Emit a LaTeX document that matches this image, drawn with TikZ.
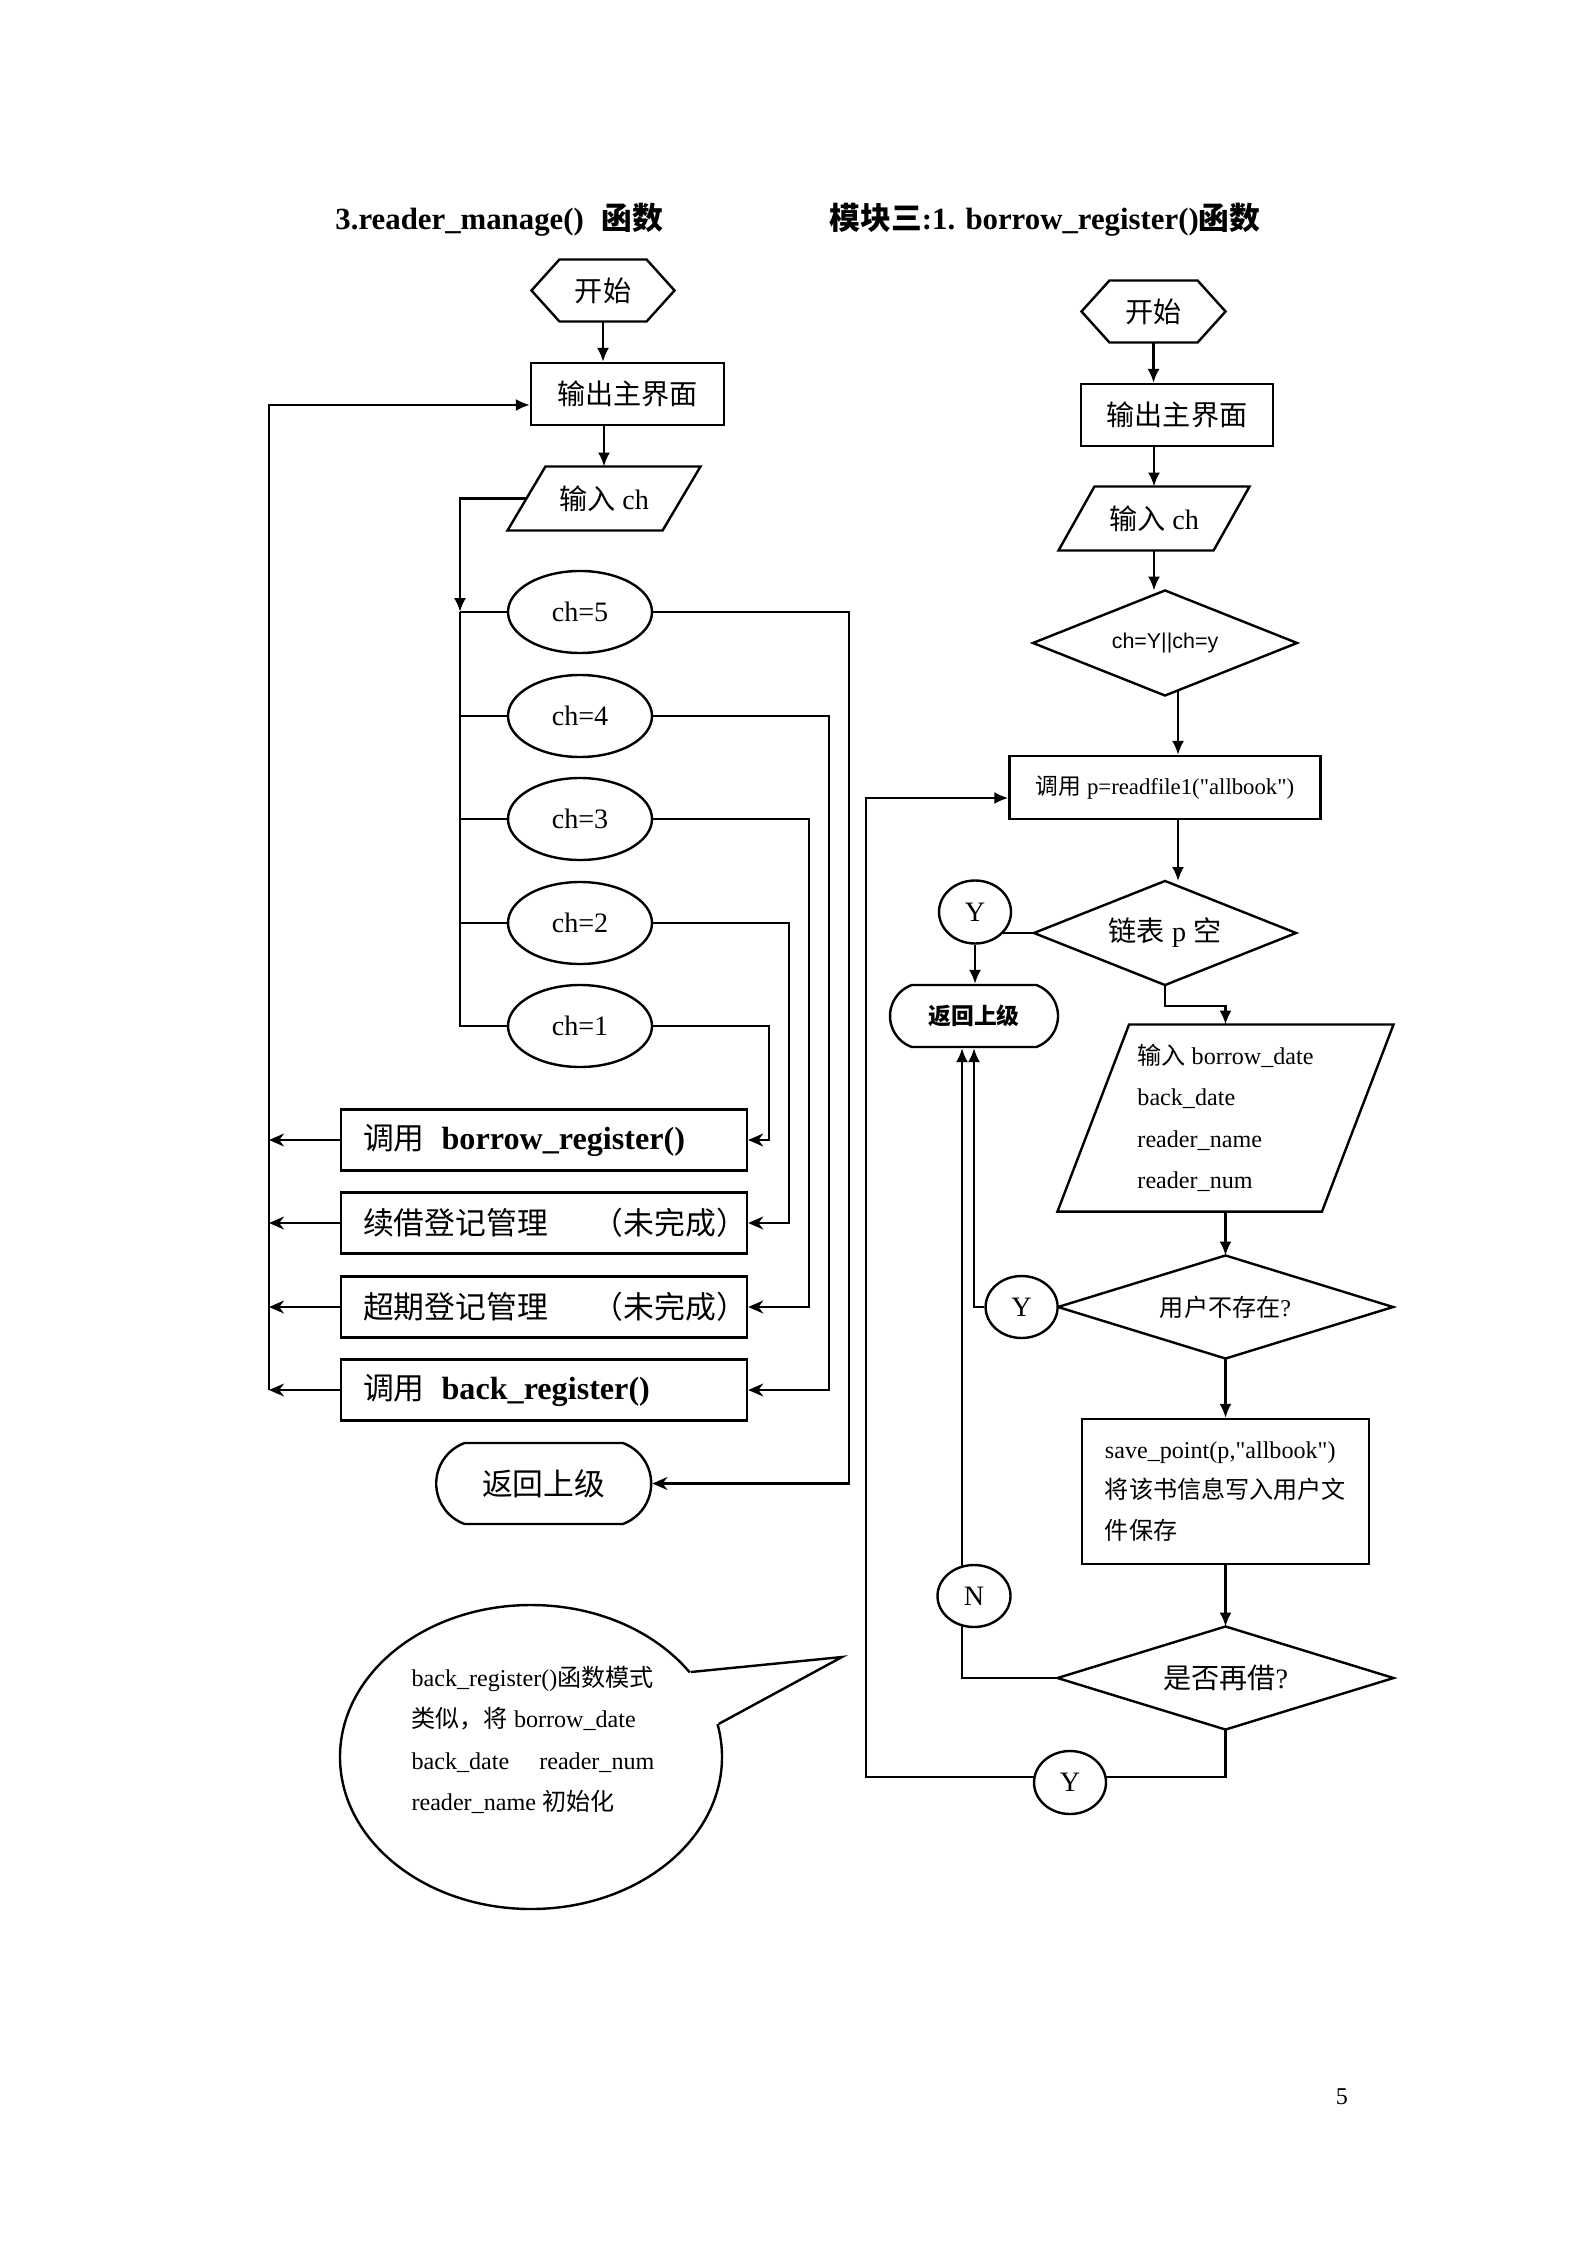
\documentclass[tikz,border=0pt]{standalone}
\usepackage{fontspec}
\setmainfont{Liberation Serif}[Ligatures=TeXOff]
\newfontfamily\cjk{Noto Sans CJK SC}
\newfontfamily\arialf{Liberation Sans}
\usetikzlibrary{arrows.meta,shapes.geometric,shapes.misc,backgrounds}
\newlength\unitpx
\setlength\unitpx{0.3733pt}
\newcommand\zh[1]{{\cjk #1}}
\newcommand\fsT{\fontsize{11.5}{13}\selectfont}
\newcommand\fsB{\fontsize{10.5}{12}\selectfont}
\newcommand\fsC{\fontsize{11.5}{13}\selectfont}
\newcommand\fsD{\fontsize{9}{15.4}\selectfont}
\newcommand\fsE{\fontsize{8.5}{10}\selectfont}
\newcommand\fsS{\fontsize{8}{10}\selectfont}
\newcommand\hexout[2]{\draw[line] ([xshift=#2]#1.north west) -- ([xshift=-#2]#1.north east) -- (#1.east) -- ([xshift=-#2]#1.south east) -- ([xshift=#2]#1.south west) -- (#1.west) -- cycle;}
\newcommand\paraout[2]{\draw[line] ([xshift=#2]#1.north west) -- (#1.north east) -- ([xshift=-#2]#1.south east) -- (#1.south west) -- cycle;}
\newcommand\diaout[1]{\draw[line] (#1.north) -- (#1.east) -- (#1.south) -- (#1.west) -- cycle;}
\begin{document}
\begin{tikzpicture}[x=0.3733pt,y=-0.3733pt,
  line/.style={line width=0.9pt,draw=black},
  arr/.style={line,-{Latex[length=5.2pt,width=4.5pt]}},
  sarr/.style={line,-{Stealth[length=5.6pt,width=4.8pt,inset=1.8pt]}},
  box/.style={draw,line width=0.9pt,rectangle,inner sep=0pt,fill=white},
  ell/.style={draw,line width=0.9pt,ellipse,inner sep=0pt,fill=white},
  plain/.style={inner sep=0pt},
  stad/.style={draw,line width=0.9pt,rounded rectangle,rounded rectangle arc length=140,inner sep=0pt,fill=white}]
\useasboundingbox (0,0) rectangle (1594,2252);

% titles
\node[anchor=west,font=\fsT] (t1) at (326,220) {\textbf{3.reader\_manage()}\hspace{18\unitpx}\zh{\bfseries 函数}};
\node[anchor=west,font=\fsT] (t2) at (820,220) {\zh{\bfseries 模块三}\textbf{:1. borrow\_register()}\zh{\bfseries 函数}};

% ---------------- left flowchart
\node[plain,minimum width=142\unitpx,minimum height=61\unitpx,font=\fsB] (s1) at (603,290.5) {\zh{开始}};
\hexout{s1}{28\unitpx}
\node[box,minimum width=193\unitpx,minimum height=62\unitpx,font=\fsB] (box1) at (627.5,394) {\zh{输出主界面}};
\node[plain,minimum width=192\unitpx,minimum height=63\unitpx,font=\fsB] (para1) at (604,498.5) {\zh{输入} ch};
\paraout{para1}{38\unitpx}
\node[ell,minimum width=144\unitpx,minimum height=82\unitpx,font=\fsB] (e5) at (580,612) {ch=5};
\node[ell,minimum width=144\unitpx,minimum height=82\unitpx,font=\fsB] (e4) at (580,716) {ch=4};
\node[ell,minimum width=144\unitpx,minimum height=82\unitpx,font=\fsB] (e3) at (580,819) {ch=3};
\node[ell,minimum width=144\unitpx,minimum height=82\unitpx,font=\fsB] (e2) at (580,923) {ch=2};
\node[ell,minimum width=144\unitpx,minimum height=82\unitpx,font=\fsB] (e1) at (580,1026) {ch=1};

\node[box,minimum width=406\unitpx,minimum height=61\unitpx,text width=406\unitpx,align=left,font=\fsC] (bb1) at (544,1140) {\hspace*{22\unitpx}\zh{调用}\hspace{17\unitpx}{\fontsize{12}{13}\selectfont\textbf{borrow\_register()}}};
\node[box,minimum width=406\unitpx,minimum height=61\unitpx,text width=406\unitpx,align=left,font=\fsC] (bb2) at (544,1223) {\hspace*{22\unitpx}\zh{续借登记管理}\hfill\zh{（未完成）}\hspace*{3\unitpx}};
\node[box,minimum width=406\unitpx,minimum height=61\unitpx,text width=406\unitpx,align=left,font=\fsC] (bb3) at (544,1307) {\hspace*{22\unitpx}\zh{超期登记管理}\hfill\zh{（未完成）}\hspace*{3\unitpx}};
\node[box,minimum width=406\unitpx,minimum height=61\unitpx,text width=406\unitpx,align=left,font=\fsC] (bb4) at (544,1390) {\hspace*{22\unitpx}\zh{调用}\hspace{17\unitpx}{\fontsize{12}{13}\selectfont\textbf{back\_register()}}};
\node[stad,minimum width=215\unitpx,minimum height=81\unitpx,font=\fsC] (ret1) at (543.7,1483.5) {\zh{返回上级}};

% callout
\node[draw,line width=0.9pt,ellipse,minimum width=382\unitpx,minimum height=304\unitpx,inner sep=0pt] (bub) at (531,1757) {};
\coordinate (tip) at (842,1657);
\fill[white] (bub.28) -- (tip) -- (bub.10) -- (bub.center) -- cycle;
\draw[line,line join=miter] (bub.28) -- (tip) -- (bub.10);
\node[anchor=west,align=left,inner sep=0pt,font=\fsD] (btext) at (411,1740) {back\_register()\zh{函数模式}\\\zh{类似，将} borrow\_date\\back\_date\hspace{30\unitpx}reader\_num\\reader\_name \zh{初始化}};

% ---------------- right flowchart
\node[plain,minimum width=143\unitpx,minimum height=61\unitpx,font=\fsB] (r1) at (1153.5,311.5) {\zh{开始}};
\hexout{r1}{28\unitpx}
\node[box,minimum width=192\unitpx,minimum height=62\unitpx,font=\fsB] (r2) at (1177,415) {\zh{输出主界面}};
\node[plain,minimum width=190\unitpx,minimum height=63\unitpx,font=\fsB] (r3) at (1154,518.5) {\zh{输入} ch};
\paraout{r3}{36\unitpx}
\node[plain,minimum width=263\unitpx,minimum height=104\unitpx,font=\fsS] (r4) at (1165,643) {\arialf ch=Y||ch=y};
\diaout{r4}
\node[box,minimum width=311\unitpx,minimum height=63\unitpx,font=\fsE] (r5) at (1165,787.5) {\zh{调用} p=readfile1("allbook")};
\node[plain,minimum width=261\unitpx,minimum height=103\unitpx,font=\fsB] (r6) at (1165,933) {\zh{链表} p \zh{空}};
\diaout{r6}
\node[ell,minimum width=72\unitpx,minimum height=63\unitpx,font=\fsB] (y1) at (975,912) {Y};
\node[stad,minimum width=168\unitpx,minimum height=62\unitpx,font=\fsE] (ret2) at (974,1016) {\zh{\bfseries 返回上级}};
\node[plain,minimum width=335\unitpx,minimum height=186\unitpx,align=left,font=\fontsize{9}{15.5}\selectfont] (r7) at (1225.5,1118) {\zh{输入} borrow\_date\\back\_date\\reader\_name\\reader\_num};
\paraout{r7}{71.6\unitpx}
\node[plain,minimum width=334\unitpx,minimum height=102\unitpx,font=\fontsize{9}{11}\selectfont] (r8) at (1225.5,1307) {\zh{用户不存在}?};
\diaout{r8}
\node[ell,minimum width=72\unitpx,minimum height=62\unitpx,font=\fsB] (y2) at (1021.6,1307) {Y};
\node[box,minimum width=287\unitpx,minimum height=145\unitpx,align=left,font=\fontsize{9}{15.2}\selectfont] (r9) at (1225.5,1491.5) {save\_point(p,"allbook")\\\zh{将该书信息写入用户文}\\\zh{件保存}};
\node[plain,minimum width=335\unitpx,minimum height=102\unitpx,font=\fsB] (r10) at (1225.5,1678) {\zh{是否再借}?};
\diaout{r10}
\node[ell,minimum width=73\unitpx,minimum height=62\unitpx,font=\fsB] (n1) at (974,1596) {N};
\node[ell,minimum width=72\unitpx,minimum height=63\unitpx,font=\fsB] (y3) at (1070,1782.5) {Y};

\node[font=\fsD] (pg) at (1342,2097) {5};

% ---------------- connectors
\begin{scope}[on background layer]
\fill[white] (0,0) rectangle (1594,2252);
% left
\draw[arr] (s1.south) -- (s1.south |- box1.north);
\draw[arr] (box1.south -| para1.north) -- (para1.north);
\coordinate (tr) at (460,612);
\draw[arr] ([xshift=19\unitpx]para1.west) -| (tr);
\draw[line] (tr) -- (e5.west);
\draw[line] (tr) |- (e1.west);
\draw[line] (e4.west) -- (e4.west -| tr);
\draw[line] (e3.west) -- (e3.west -| tr);
\draw[line] (e2.west) -- (e2.west -| tr);
\coordinate (c1) at (769,0);
\coordinate (c2) at (789,0);
\coordinate (c3) at (809,0);
\coordinate (c4) at (829,0);
\coordinate (c5) at (849,0);
\draw[sarr] (e1.east) -| (c1 |- bb1.east) -- (bb1.east);
\draw[sarr] (e2.east) -| (c2 |- bb2.east) -- (bb2.east);
\draw[sarr] (e3.east) -| (c3 |- bb3.east) -- (bb3.east);
\draw[sarr] (e4.east) -| (c4 |- bb4.east) -- (bb4.east);
\draw[sarr] (e5.east) -| (c5 |- ret1.east) -- (ret1.east);
\coordinate (lp) at (269,405);
\draw[arr] (bb4.west -| lp) -- (lp) -- (lp -| box1.west);
\draw[sarr] (bb1.west) -- (bb1.west -| lp);
\draw[sarr] (bb2.west) -- (bb2.west -| lp);
\draw[sarr] (bb3.west) -- (bb3.west -| lp);
\draw[sarr] (bb4.west) -- (bb4.west -| lp);
% right
\draw[arr] (r1.south) -- (r1.south |- r2.north);
\draw[arr] (r3.north |- r2.south) -- (r3.north);
\draw[arr] (r3.south) -- (r3.south |- r4.north);
\path (r4.center) ++(13,46.9) coordinate (r4b);
\draw[arr] (r4b) -- (r4b |- r5.north);
\draw[arr] (r4b |- r5.south) -- (r4b |- r6.north);
\draw[line] (r6.west) -- (r6.west -| y1.center);
\draw[arr] (y1.south) -- (y1.south |- ret2.north);
\draw[arr] (r6.south) -- ++(0,21) -| (r7.north);
\draw[arr] (r7.south) -- (r8.north);
\draw[line] (r8.west) -- (y2.center);
\draw[arr] (y2.west) -| (ret2.south);
\draw[arr] (r8.south) -- (r9.north);
\draw[arr] (r9.south) -- (r10.north);
\draw[arr] (r10.west) -| ([xshift=-12\unitpx]ret2.south);
\coordinate (lb) at (866,1777);
\coordinate (lt) at (866,798);
\draw[arr] (r10.south) |- (lb) -- (lt) -- (lt -| r5.west);
\end{scope}
\end{tikzpicture}
\end{document}
